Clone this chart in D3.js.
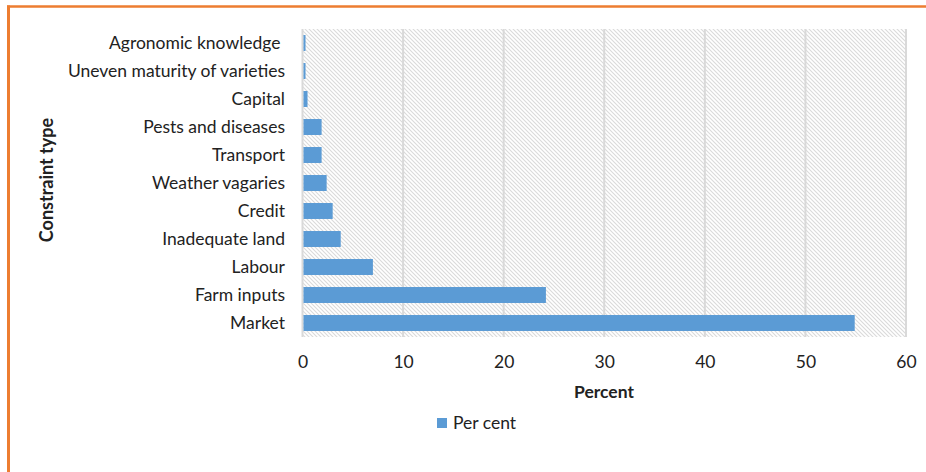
<!DOCTYPE html>
<html>
<head>
<meta charset="utf-8">
<script src="https://cdn.jsdelivr.net/npm/d3@7"></script>
<style>
  html, body { margin: 0; padding: 0; background: #fff; }
  svg { display: block; }
  text { font-family: Lato, "Open Sans", sans-serif; fill: #222; }
</style>
</head>
<body>
<svg id="chart" width="926" height="472"></svg>
<script>
// Constraint categories, listed bottom to top as drawn
const categories = [
  "Market", "Farm inputs", "Labour", "Inadequate land", "Credit",
  "Weather vagaries", "Transport", "Pests and diseases", "Capital",
  "Uneven maturity of varieties", "Agronomic knowledge "
];
// Share of respondents citing each constraint (per cent)
const perCent = [54.9, 24.2, 7.0, 3.8, 3.0, 2.4, 1.9, 1.9, 0.5, 0.3, 0.3];
const xTicks = [0, 10, 20, 30, 40, 50, 60];
const seriesName = "Per cent";

const svg = d3.select("#chart");
const W = 926, H = 472;
const plot = { left: 302.5, right: 906, top: 29, bottom: 337 };
const FS = "17.5px";

// Orange frame along the top and left edges
svg.append("line").attr("x1", 7).attr("x2", W).attr("y1", 6.5).attr("y2", 6.5)
  .attr("stroke", "#ED7D31").attr("stroke-width", 2.5);
svg.append("line").attr("x1", 8.5).attr("x2", 8.5).attr("y1", 5.5).attr("y2", H)
  .attr("stroke", "#ED7D31").attr("stroke-width", 3);

// Diagonal hatch fill for the plot area
const defs = svg.append("defs");
const pat = defs.append("pattern").attr("id", "hatch")
  .attr("patternUnits", "userSpaceOnUse").attr("width", 4).attr("height", 4);
pat.append("rect").attr("width", 4).attr("height", 4).attr("fill", "#fff");
pat.append("path").attr("d", "M-1,-1 L5,5 M-1,3 L1,5 M3,-1 L5,1")
  .attr("stroke", "#dadada").attr("stroke-width", 1.1);

const x = d3.scaleLinear().domain([0, 60]).range([plot.left, plot.right]);
const y = d3.scaleBand().domain(categories)
  .range([plot.bottom, plot.top]).paddingInner(0.43).paddingOuter(0.215);

svg.append("rect").attr("x", plot.left).attr("y", plot.top)
  .attr("width", plot.right - plot.left).attr("height", plot.bottom - plot.top)
  .attr("fill", "url(#hatch)");

// Vertical gridlines
svg.append("g").selectAll("line").data(xTicks).join("line")
  .attr("x1", d => x(d)).attr("x2", d => x(d))
  .attr("y1", plot.top).attr("y2", plot.bottom)
  .attr("stroke", "#d9d9d9").attr("stroke-width", 2);

// Bars
svg.append("g").selectAll("rect").data(categories).join("rect")
  .attr("x", x(0) + 1)
  .attr("y", d => y(d))
  .attr("width", (d, i) => x(perCent[i]) - x(0) - 1)
  .attr("height", y.bandwidth())
  .attr("fill", "#5B9BD5");

// X axis tick labels
const xAxis = d3.axisBottom(x).tickValues(xTicks).tickSize(0).tickPadding(0);
const gx = svg.append("g").attr("transform", `translate(0,${plot.bottom})`).call(xAxis);
gx.select(".domain").remove();
gx.selectAll("text").attr("dy", null).attr("y", 31)
  .style("font-family", "Lato, 'Open Sans', sans-serif")
  .style("font-size", FS).attr("fill", "#222");

// Y axis category labels
const yAxis = d3.axisLeft(y).tickSize(0).tickPadding(0);
const gy = svg.append("g").attr("transform", "translate(285,0)").call(yAxis);
gy.select(".domain").remove();
gy.selectAll("text")
  .style("font-family", "Lato, 'Open Sans', sans-serif")
  .style("font-size", FS).style("white-space", "pre").attr("fill", "#222");

// Axis titles
svg.append("text").attr("x", 604).attr("y", 398).attr("text-anchor", "middle")
  .style("font-size", FS).style("font-weight", "bold").text("Percent");
svg.append("text").attr("transform", "translate(53,180) rotate(-90)")
  .attr("text-anchor", "middle")
  .style("font-size", "18px").style("font-weight", "bold").text("Constraint type");

// Legend
const lg = svg.append("g").attr("transform", "translate(437,418)");
lg.append("rect").attr("width", 10).attr("height", 10).attr("fill", "#5B9BD5");
lg.append("text").attr("x", 16).attr("y", 11).style("font-size", FS).text(seriesName);
</script>
</body>
</html>
